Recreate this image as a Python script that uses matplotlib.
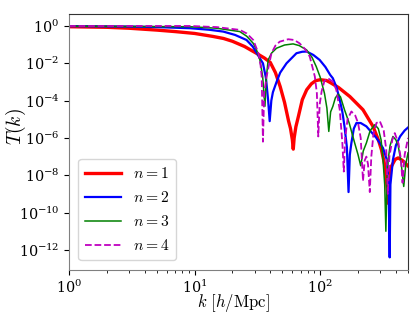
import numpy as np
import matplotlib
matplotlib.use("Agg")
import matplotlib.pyplot as plt

plt.rcParams['mathtext.fontset'] = 'cm'
plt.rcParams['font.family'] = 'serif'
plt.rcParams['font.serif'] = ['DejaVu Serif']

#---- data (log10 T) ----
k1 = [1, 2, 3, 5, 7, 10, 14, 17, 20, 25, 31, 36, 40, 44, 48, 52, 56, 58, 60, 61, 62, 64, 67, 72, 78, 85, 92, 100,
      112, 120, 140, 172, 219, 263, 290, 307, 325, 338, 347, 352, 360, 370, 395, 417, 450, 500]
t1 = [-0.04, -0.07, -0.12, -0.22, -0.3, -0.4, -0.56, -0.67, -0.82, -1.1, -1.46, -1.72, -1.95, -2.5, -3.25, -4.1,
      -5.1, -5.5, -6.1, -6.6, -6.0, -5.4, -4.85, -3.95, -3.42, -3.1, -2.93, -2.88,
      -2.92, -3.03, -3.3, -3.78, -4.49, -5.38, -6.1, -6.63, -7.4, -8.4, -9.5, -8.3, -7.8, -7.5, -7.15, -7.07, -7.2, -7.5]

k2 = [1, 3, 5, 9.2, 13, 16.9, 21, 25.9, 29, 31.1, 35, 37, 38.5, 39.6, 40.8, 42, 44.9, 48, 53.9, 64.7, 72, 78, 88,
      99, 110, 120, 126, 135, 143, 150, 156, 163, 168, 172, 177, 185, 194, 210, 233, 280, 316, 340, 350, 357,
      362, 379, 400, 432, 470, 500]
t2 = [-0.01, -0.03, -0.06, -0.12, -0.2, -0.3, -0.48, -0.75, -1.1, -1.43, -2.0, -2.8, -4.0, -5.1, -4.0, -3.55,
      -3.0, -2.5, -2.0, -1.46, -1.38, -1.37, -1.55, -1.82, -2.2, -2.62, -2.8, -3.3, -3.96, -4.6, -5.38, -6.5,
      -8.9, -6.9, -6.27, -5.5, -5.2, -5.2, -5.38, -6.0, -6.54, -7.2, -8.5, -12.4,
      -8.5, -7.17, -6.4, -5.92, -5.6, -5.44]

k3 = [1, 9.2, 15, 22.9, 26, 29.3, 31, 33.1, 34.8, 36.3, 37.2, 38.5, 41, 44.9, 52, 60.8, 68, 77.8, 86, 93, 100,
      108, 113, 117, 121, 126, 132, 139, 145, 156, 170, 188, 200, 210, 220, 233, 250, 272, 290, 305, 316, 326,
      333, 340, 347, 360, 379, 400, 417, 440, 462, 480, 500]
t3 = [-0.01, -0.04, -0.12, -0.3, -0.55, -0.93, -1.25, -1.82, -2.7, -4.3, -2.8, -1.82, -1.45, -1.19, -1.02,
      -0.96, -1.05, -1.28, -1.68, -2.18, -2.75, -3.6, -4.4, -5.65, -4.6, -4.31, -3.85, -3.65, -3.8, -4.49,
      -5.2, -6.27, -6.9, -7.49, -6.7, -6.27, -5.6, -5.29, -5.5, -6.1, -7.17, -8.5,
      -11.0, -8.3, -7.17, -6.4, -5.92, -6.1, -6.4, -7.3, -8.6, -7.4, -6.8]

k4 = [1, 9.2, 15, 22.9, 26, 29.3, 32.2, 33.5, 34.2, 35, 35.8, 37.4, 40.9, 44, 47.6, 55.6, 62, 68.5, 76, 82.5,
      90.6, 94, 96.5, 99, 102.6, 108, 115, 126, 134, 143, 150, 154, 158, 165, 177, 190, 200, 210, 219, 226,
      233, 240, 248, 255, 265, 280, 298, 320, 335, 345, 355, 375, 392, 420, 440, 452, 470, 500]
t4 = [0.0, 0.0, -0.06, -0.21, -0.4, -0.75, -1.46, -2.1, -2.71, -6.2, -3.6, -2.71, -1.46, -1.05, -0.84, -0.71,
      -0.75, -0.93, -1.25, -1.64, -2.71, -3.6, -5.92, -4.2, -3.5, -2.95, -2.8, -2.98, -3.4, -4.49, -6.27, -7.8,
      -6.0, -5.0, -4.58, -4.8, -5.2, -6.0, -8.3, -7.2, -7.0, -7.4, -8.9, -7.0, -5.8, -5.2, -5.1, -5.6, -6.6,
      -9.0, -7.0, -6.1, -5.74, -6.3, -7.2, -8.4, -6.9, -6.0]

fig = plt.figure(figsize=(4.13, 3.12), dpi=100)
ax = fig.add_axes([0.167, 0.135, 0.821, 0.82])

ax.plot(k1, 10 ** np.array(t1), color='r', lw=2.4, label=r'$n=1$')
ax.plot(k2, 10 ** np.array(t2), color='b', lw=1.6, label=r'$n=2$')
ax.plot(k3, 10 ** np.array(t3), color='g', lw=1.1, label=r'$n=3$')
ax.plot(k4, 10 ** np.array(t4), color='m', lw=1.3, ls='--', label=r'$n=4$')

ax.set_xscale('log')
ax.set_yscale('log')
ax.set_xlim(1, 500)
ax.set_ylim(10 ** -13.07, 10 ** 0.64)
ax.set_yticks([10.0 ** e for e in range(-12, 1, 2)])
ax.yaxis.set_minor_locator(matplotlib.ticker.NullLocator())
ax.tick_params(labelsize=10.3)
ax.tick_params(axis='x', pad=2.5)

ax.spines['left'].set_color('gray')
ax.spines['bottom'].set_color('gray')
ax.spines['top'].set_color('#333333')
ax.spines['right'].set_color('#333333')

ax.set_xlabel(r'$k\ [h/\mathrm{Mpc}]$', fontsize=12)
ax.set_ylabel(r'$T(k)$', fontsize=14)
ax.xaxis.set_label_coords(0.485, -0.086)
ax.yaxis.set_label_coords(-0.122, 0.56)
ax.legend(loc='lower left', fontsize=11.3, handlelength=2.3, labelspacing=0.45,
          borderaxespad=0.6)

plt.savefig('out.png', dpi=100)
